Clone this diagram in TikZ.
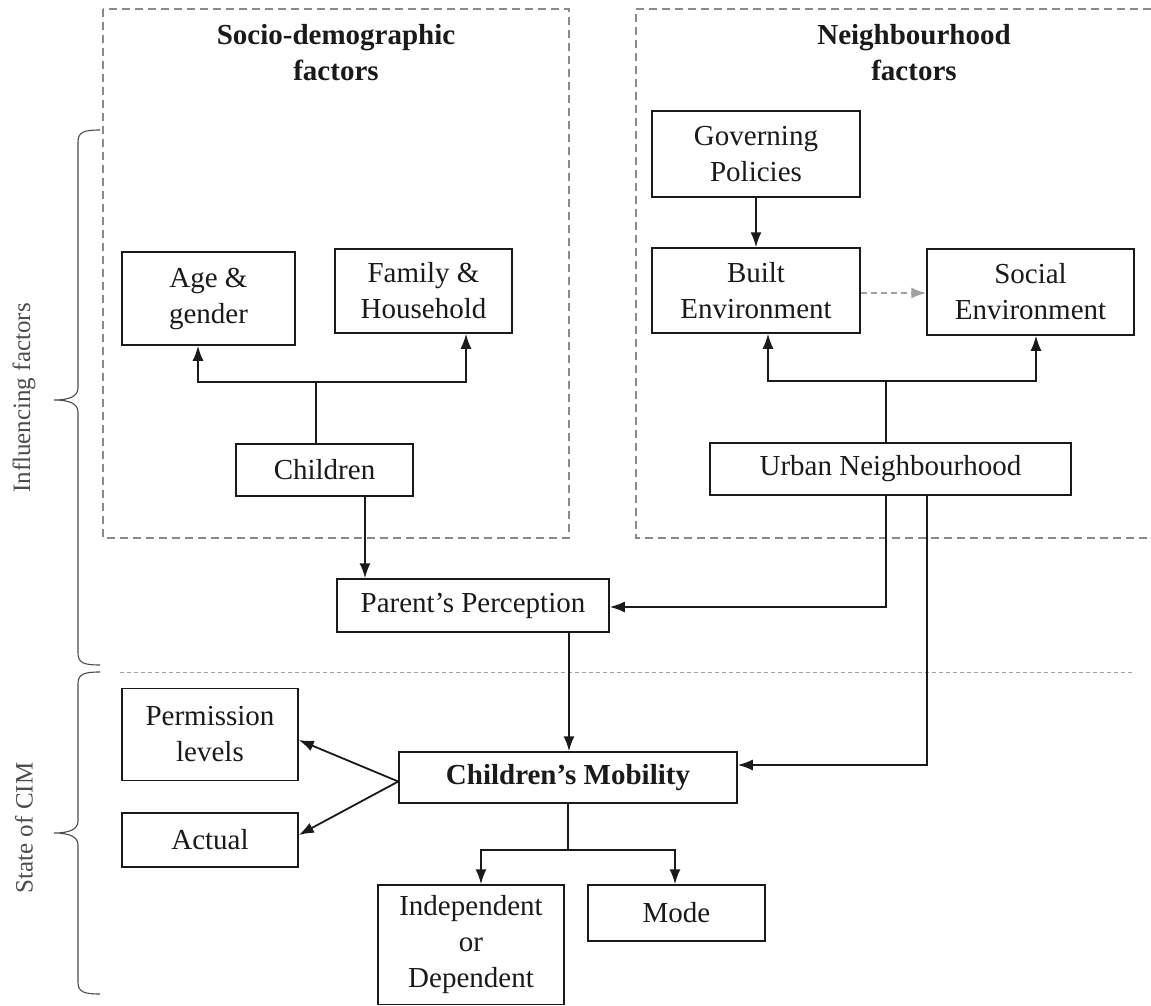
\documentclass[tikz,border=0pt]{standalone}
\usepackage{fontspec}
\setmainfont{Liberation Serif}
\usetikzlibrary{arrows.meta}
\definecolor{ink}{HTML}{1A1A1A}
\definecolor{frame}{HTML}{8A8A8A}
\definecolor{faint}{HTML}{A0A0A0}
\definecolor{bracegray}{HTML}{4C4C4C}
\begin{document}
\begin{tikzpicture}[x=1pt,y=-1pt,
  box/.style={draw=ink, line width=1.5pt, text=ink, align=center, inner sep=0pt,
    font=\fontsize{29}{36}\selectfont},
  head/.style={text=ink, align=center, inner sep=0pt,
    font=\fontsize{29}{36}\selectfont\bfseries},
  side/.style={text=bracegray, inner sep=0pt, font=\fontsize{25}{30}\selectfont},
  link/.style={draw=ink, line width=1.8pt},
  arr/.style={link, -{Latex[length=15pt,width=11pt]}},
  softarr/.style={draw=faint, line width=1.8pt, dash pattern=on 6pt off 4pt,
    -{Latex[length=15pt,width=11pt]}},
  group/.style={draw=frame, line width=1.3pt, dash pattern=on 8pt off 5pt},
  divider/.style={draw=faint, line width=1pt, dash pattern=on 4pt off 3pt},
  bracket/.style={draw=bracegray, line width=1.1pt},
]
\useasboundingbox[fill=white] (0,0) rectangle (1151,1006);

% factor groups
\draw[group] (103,9) rectangle (569,538);
\draw[group] (1151,9) -- (636,9) -- (636,538) -- (1151,538);
\draw[divider] (120,672) -- (1135,672);

% side brackets
\draw[bracket] (100,130) .. controls (84,130) and (78,132) .. (78,142) -- (78,388)
  .. controls (78,396) and (70,400) .. (54,400)
  .. controls (70,400) and (78,404) .. (78,412) -- (78,653)
  .. controls (78,663) and (84,665) .. (100,665);
\draw[bracket] (100,672) .. controls (84,672) and (78,674) .. (78,684) -- (78,821)
  .. controls (78,829) and (70,833) .. (54,833)
  .. controls (70,833) and (78,837) .. (78,845) -- (78,982)
  .. controls (78,992) and (84,994) .. (100,994);
\node[side, rotate=90] (infl) at (24,398) {Influencing factors};
\node[side, rotate=90] (cim) at (24,828) {State of CIM};

% headings
\node[head] (socio) at (336,53) {Socio-demographic\\factors};
\node[head] (neigh) at (914,53) {Neighbourhood\\factors};

% boxes
\node[box, minimum width=208pt, minimum height=86pt] (gov) at (756,154) {Governing\\Policies};
\node[box, minimum width=208pt, minimum height=85pt] (built) at (756,290.5) {Built\\Environment};
\node[box, minimum width=207pt, minimum height=86pt] (social) at (1030.5,292) {Social\\Environment};
\node[box, minimum width=173pt, minimum height=93pt] (age) at (208.5,298.5) {Age \&\\gender};
\node[box, minimum width=177pt, minimum height=84pt] (family) at (423.5,291) {Family \&\\Household};
\node[box, minimum width=177pt, minimum height=52pt] (children) at (324.5,470) {Children};
\node[box, minimum width=361pt, minimum height=52pt] (urban) at (890.5,469) {Urban Neighbourhood};
\node[box, minimum width=272pt, minimum height=53pt] (parent) at (473,605.5) {Parent’s Perception};
\node[box, minimum width=338pt, minimum height=51pt, font=\fontsize{29}{36}\selectfont\bfseries] (mob) at (568,777.5) {Children’s Mobility};
\node[box, minimum width=176pt, minimum height=92pt] (perm) at (210,734.5) {Permission\\levels};
\node[box, minimum width=176pt, minimum height=54pt] (actual) at (210,840) {Actual};
\node[box, minimum width=186pt, minimum height=119.5pt] (indep) at (471,944.75) {Independent\\or\\Dependent};
\node[box, minimum width=177pt, minimum height=56pt] (mode) at (676.5,913) {Mode};

% neighbourhood links
\draw[arr] (gov.south) -- (built.north);
\draw[softarr] ([yshift=-2.5pt]built.east) -- ([yshift=-2.5pt]built.east -| social.west);
\draw[link] ([xshift=-4.5pt]urban.north) -- ++(0,-61) coordinate (uj);
\draw[arr] (uj) -| ([xshift=12pt]built.south);
\draw[arr] (uj) -| ([xshift=5.5pt]social.south);

% socio-demographic links
\draw[link] ([xshift=-8.5pt]children.north) -- ++(0,-61) coordinate (cj);
\draw[arr] (cj) -| ([xshift=-10.5pt]age.south);
\draw[arr] (cj) -| ([xshift=42.5pt]family.south);

% towards mobility
\draw[arr] ([xshift=40.5pt]children.south) -- ([xshift=40.5pt]children.south |- parent.north);
\draw[arr] ([xshift=-4.5pt]urban.south) |- ([yshift=-1.5pt]parent.east);
\draw[arr] ([xshift=36.5pt]urban.south) |- ([yshift=12.5pt]mob.east);
\draw[arr] ([xshift=96pt]parent.south) -- ([xshift=96pt]parent.south |- mob.north);

% state of mobility
\draw[arr] ([yshift=-4pt]mob.west) -- ([yshift=-5.5pt]perm.east);
\draw[arr] ([yshift=-4pt]mob.west) -- ([yshift=5pt]actual.east);
\draw[link] (mob.south) -- ++(0,46) coordinate (mj);
\draw[arr] (mj) -| ([xshift=10pt]indep.north);
\draw[arr] (mj) -| ([xshift=-1.5pt]mode.north);
\end{tikzpicture}
\end{document}
